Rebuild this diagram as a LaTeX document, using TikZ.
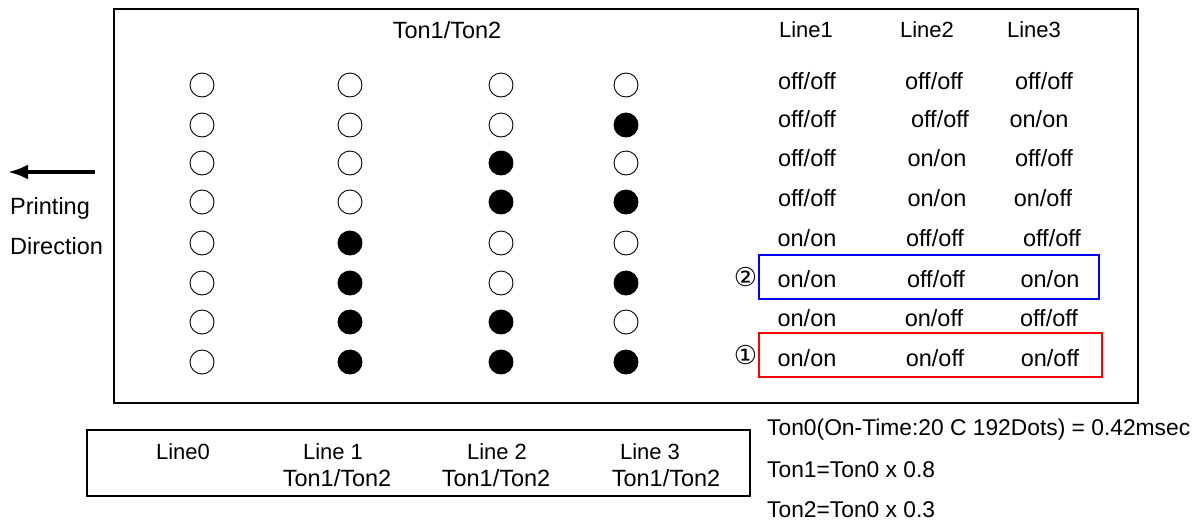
\documentclass[tikz,border=0pt]{standalone}
\usepackage{fontspec}
\setmainfont{Liberation Sans}
\newfontfamily\circfont{DejaVu Sans}
\usetikzlibrary{arrows.meta}
\tikzset{
    dot-o/.style = {draw, circle, minimum size=24pt, inner sep=0pt, line width=0.9pt},
    dot-f/.style = {dot-o, fill=black},
    cell-text/.style = {font=\fontsize{23.5}{26}\selectfont, inner sep=0pt},
    head-text/.style = {font=\fontsize{22}{26}\selectfont, inner sep=0pt},
    note-text/.style = {font=\fontsize{22.8}{26}\selectfont, inner sep=0pt, anchor=west},
    mark-box/.style = {draw, line width=1.4pt, inner sep=0pt, minimum height=44pt},
    mark-num/.style = {font=\circfont\fontsize{26}{28}\selectfont, inner sep=1pt, left=0pt},
}

\begin{document}
\begin{tikzpicture}[x=1pt, y=-1pt]
\useasboundingbox (0,0) rectangle (1200,523);
\draw[line width=1.1pt] (114,9) rectangle (1138,403);
\draw[line width=1.1pt] (87,430) rectangle (750,496);

% direction of printing
\node[cell-text, anchor=west] (printing) at (10,208) {Printing};
\node[cell-text, anchor=west] (direction) at (10,246) {Direction};
\coordinate (arr-from) at (95,172);
\coordinate (arr-to) at (8,172);
\draw[line width=3.5pt, -{Latex[length=20pt, width=15pt]}] (arr-from) -- (arr-to);

% dots
\node[cell-text] (title) at (447,30) {Ton1/Ton2};
\foreach \y/\a/\b/\c/\d [count=\r] in {85/o/o/o/o, 125/o/o/o/f, 163/o/o/f/o, 202/o/o/f/f,
    243/o/f/o/o, 283/o/f/o/f, 322/o/f/f/o, 362/o/f/f/f}{
    \node[dot-\a] (d\r-0) at (202,\y) {};
    \node[dot-\b] (d\r-1) at (350,\y) {};
    \node[dot-\c] (d\r-2) at (501,\y) {};
    \node[dot-\d] (d\r-3) at (626,\y) {};
}

% table of states
\node[head-text] (head1) at (806,30) {Line1};
\node[head-text] (head2) at (927,30) {Line2};
\node[head-text] (head3) at (1034,30) {Line3};
\foreach \y/\p/\q/\s/\xq/\xs [count=\r] in {
    81/{off/off}/{off/off}/{off/off}/934/1044,
    119/{off/off}/{off/off}/{on/on}/940/1039,
    158/{off/off}/{on/on}/{off/off}/937/1044,
    198/{off/off}/{on/on}/{on/off}/937/1043,
    238/{on/on}/{off/off}/{off/off}/935/1052,
    279/{on/on}/{off/off}/{on/on}/936/1050,
    318/{on/on}/{on/off}/{off/off}/934/1049,
    358/{on/on}/{on/off}/{on/off}/935/1050}{
    \node[cell-text] (t\r-1) at (807,\y) {\p};
    \node[cell-text] (t\r-2) at (\xq,\y) {\q};
    \node[cell-text] (t\r-3) at (\xs,\y) {\s};
}

% marked rows
\node[mark-box, draw=blue, minimum width=340pt] (box2) at (929,277) {};
\node[mark-box, draw=red, minimum width=343pt] (box1) at (930.5,355) {};
\node[mark-num] (num2) at (box2.west) {②};
\node[mark-num] (num1) at (box1.west) {①};

% legend of lines
\node[head-text] (leg0) at (183,452) {Line0};
\node[head-text] (leg1) at (333,452) {Line 1};
\node[cell-text] (leg1b) at (337,478) {Ton1/Ton2};
\node[head-text] (leg2) at (497,452) {Line 2};
\node[cell-text] (leg2b) at (496,478) {Ton1/Ton2};
\node[head-text] (leg3) at (650,452) {Line 3};
\node[cell-text] (leg3b) at (666,478) {Ton1/Ton2};

% on-times
\node[note-text] (ton0) at (767,430) {Ton0(On-Time:20 C 192Dots) = 0.42msec};
\node[note-text] (ton1) at (767,470) {Ton1=Ton0 x 0.8};
\node[note-text] (ton2) at (767,510) {Ton2=Ton0 x 0.3};
\end{tikzpicture}
\end{document}
